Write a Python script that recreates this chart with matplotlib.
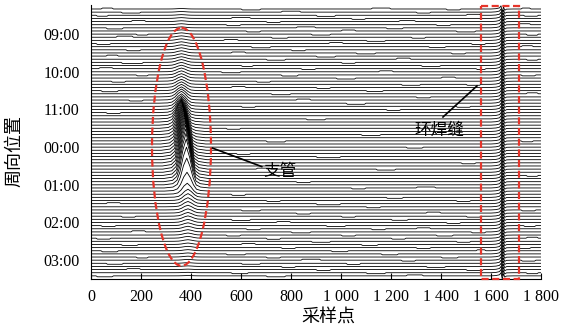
import numpy as np
import matplotlib.pyplot as plt
from matplotlib.patches import Ellipse, Rectangle

plt.rcParams['font.family'] = ['Liberation Serif', 'Noto Sans CJK SC']
cjk = ['Noto Sans CJK SC', 'DejaVu Sans']

# ---- data ----
n_traces = 86
hour_rows = [8, 20, 32, 44, 56, 68, 80]
hour_labels = ["09:00", "10:00", "11:00", "00:00", "01:00", "02:00", "03:00"]
x_ticks = [0, 200, 400, 600, 800, 1000, 1200, 1400, 1600, 1800]
x_tick_labels = ["0", "200", "400", "600", "800", "1 000", "1 200", "1 400", "1 600", "1 800"]

# branch (支管) hump: shape around its centre, in trace spacings
branch_offsets = [-90, -55, -38, -26, -13, 0, 13, 26, 38, 55, 90]
branch_shape = [0, 0.03, 0.12, 0.35, 0.75, 1.0, 0.72, 0.33, 0.1, 0.03, 0]
branch_center = ([362] * 36
                 + [362, 363, 364, 365, 366, 367, 368, 369, 370, 371]
                 + [372, 373, 374, 375, 376, 377, 378, 379, 380, 381]
                 + [382, 383, 384, 385]
                 + [388] * 26)
branch_amp = [0.15, 0.2, 0.2, 0.25, 0.25, 0.3, 0.3, 0.35, 0.4, 0.45,
              0.5, 0.55, 0.6, 0.65, 0.7, 0.75, 0.8, 0.9, 1.0, 1.1,
              1.2, 1.3, 1.4, 1.5, 1.6, 1.8, 2.0, 2.2, 2.5, 2.8,
              3.0, 3.4, 3.9, 4.5, 5.2, 6.0, 6.8, 7.5, 8.2, 8.9,
              9.6, 10.3, 11.0, 11.6, 12.2, 12.8, 13.3, 13.8, 14.2, 14.5,
              14.8, 15.0, 15.0, 14.8, 14.4, 13.6, 12.0, 9.5, 6.0, 3.5,
              2.6, 2.2, 1.9, 1.7, 1.5, 1.35, 1.2, 1.1, 1.0, 0.9,
              0.8, 0.72, 0.65, 0.58, 0.52, 0.46, 0.4, 0.35, 0.3, 0.27,
              0.24, 0.2, 0.18, 0.15, 0.12, 0.1]

# girth weld (环焊缝) spike, same on every trace
weld_x = [1600, 1620, 1634, 1640, 1645, 1650, 1655, 1662, 1690]
weld_dy = [0, -0.1, -0.35, -1.0, 1.0, -0.7, 0.4, 0.05, 0]

# small steps in the traces: (trace, x start, x end, offset)
wiggles = [
    (0, 40, 90, -0.3), (0, 600, 680, 0.3), (0, 1120, 1200, -0.3), (0, 1420, 1480, 0.3), (0, 1720, 1760, -0.3),
    (1, 120, 200, 0.3), (1, 760, 840, -0.3), (1, 1300, 1360, 0.3),
    (2, 20, 70, 0.3), (2, 900, 980, 0.35), (2, 1500, 1560, -0.3), (2, 1730, 1790, 0.3),
    (3, 560, 640, -0.3), (3, 1040, 1100, 0.3),
    (4, 160, 220, -0.35), (4, 700, 760, 0.3), (4, 1230, 1300, -0.3),
    (5, 540, 600, 0.3), (5, 1380, 1440, 0.3), (5, 1710, 1760, -0.3),
    (6, 60, 130, 0.35), (6, 820, 900, -0.3), (6, 1180, 1250, 0.3),
    (7, 620, 680, 0.3), (7, 1000, 1060, -0.3), (7, 1460, 1540, 0.3),
    (8, 180, 230, 0.3), (8, 880, 960, 0.3), (8, 1740, 1790, 0.35),
    (9, 100, 170, -0.35), (9, 720, 790, 0.3), (9, 1280, 1340, 0.3),
    (10, 530, 590, -0.3), (10, 1100, 1180, 0.3),
    (11, 20, 80, 0.3), (11, 950, 1010, -0.3), (11, 1520, 1580, 0.3),
    (12, 640, 720, 0.35), (12, 1350, 1420, 0.3), (12, 1720, 1770, -0.3),
    (13, 140, 200, 0.3), (13, 800, 860, 0.3),
    (14, 560, 620, -0.3), (14, 1060, 1140, 0.3), (14, 1440, 1500, 0.3),
    (15, 60, 110, -0.3), (15, 900, 980, 0.3),
    (16, 700, 780, 0.3), (16, 1220, 1280, -0.35), (16, 1740, 1790, 0.3),
    (17, 120, 210, 0.35), (17, 1000, 1060, 0.3),
    (18, 600, 650, 0.3), (18, 1320, 1400, 0.3),
    (19, 30, 90, -0.3), (19, 840, 900, 0.3), (19, 1540, 1580, 0.3),
    (20, 520, 600, 0.3), (20, 1150, 1210, -0.3),
    (21, 180, 230, 0.3), (21, 760, 830, 0.35), (21, 1720, 1780, 0.3),
    (22, 980, 1060, 0.3), (22, 1400, 1460, -0.3),
    (23, 80, 140, 0.3), (23, 660, 720, 0.3),
    (24, 1240, 1320, 0.3), (24, 1500, 1560, 0.3),
    (25, 560, 620, -0.3), (25, 900, 960, 0.3),
    (26, 40, 110, 0.35), (26, 1100, 1170, 0.3),
    (27, 720, 800, 0.3), (27, 1740, 1790, -0.3),
    (28, 1300, 1360, 0.3),
    (29, 150, 210, 0.3), (29, 820, 880, -0.3),
    (30, 1020, 1100, 0.35),
    (31, 600, 660, 0.3), (31, 1460, 1520, 0.3),
    (32, 1180, 1240, 0.3), (33, 60, 120, 0.3), (35, 860, 940, 0.3),
    (37, 1380, 1440, -0.3), (38, 540, 600, 0.3), (40, 1080, 1160, 0.3),
    (42, 700, 780, 0.35), (42, 1720, 1770, 0.3), (44, 1260, 1330, 0.3),
    (46, 580, 640, 0.3), (47, 900, 1000, 0.35), (49, 1480, 1540, 0.3),
    (51, 660, 720, -0.3), (51, 1140, 1220, 0.3), (53, 1740, 1790, 0.3),
    (55, 820, 880, 0.3), (57, 1040, 1100, 0.3), (57, 1300, 1380, -0.3),
    (59, 560, 620, 0.35), (60, 1180, 1250, 0.3),
    (61, 700, 760, 0.3), (61, 1460, 1520, 0.3),
    (62, 60, 120, -0.3), (62, 900, 1000, 0.35),
    (63, 1100, 1160, 0.3),
    (64, 600, 680, 0.3), (64, 1720, 1780, 0.3),
    (65, 820, 880, 0.3), (65, 1340, 1400, -0.3),
    (66, 120, 180, 0.3), (66, 1000, 1060, 0.3), (66, 1500, 1560, 0.3),
    (67, 560, 640, 0.35), (67, 1200, 1270, 0.3),
    (68, 740, 800, -0.3), (68, 1420, 1480, 0.3),
    (69, 40, 100, 0.3), (69, 940, 1020, 0.3), (69, 1730, 1780, 0.3),
    (70, 620, 680, 0.3), (70, 1120, 1180, 0.3), (70, 1300, 1360, -0.3),
    (71, 160, 220, -0.35), (71, 800, 880, 0.3), (71, 1520, 1580, 0.3),
    (72, 540, 600, 0.3), (72, 1000, 1060, 0.3), (72, 1380, 1450, 0.3),
    (73, 20, 80, 0.3), (73, 700, 760, 0.35), (73, 1200, 1260, 0.3), (73, 1740, 1790, -0.3),
    (74, 880, 960, 0.3), (74, 1460, 1520, 0.3),
    (75, 120, 190, 0.3), (75, 600, 660, -0.3), (75, 1080, 1150, 0.3),
    (76, 760, 820, 0.3), (76, 1300, 1360, 0.3), (76, 1710, 1760, 0.3),
    (77, 40, 110, 0.35), (77, 960, 1030, 0.3), (77, 1540, 1580, -0.3),
    (78, 540, 620, 0.3), (78, 1160, 1230, 0.3),
    (79, 180, 230, 0.3), (79, 700, 760, 0.3), (79, 1400, 1470, 0.3),
    (80, 840, 920, -0.3), (80, 1240, 1300, 0.3), (80, 1720, 1780, 0.3),
    (81, 60, 130, 0.3), (81, 600, 680, 0.3), (81, 1020, 1080, 0.35),
    (82, 760, 820, 0.3), (82, 1340, 1420, 0.3),
    (83, 140, 200, -0.3), (83, 900, 960, 0.3), (83, 1500, 1570, 0.3),
    (84, 560, 630, 0.3), (84, 1100, 1180, 0.3), (84, 1740, 1790, 0.3),
    (85, 20, 90, 0.3), (85, 700, 780, 0.3), (85, 1260, 1330, -0.3),
]

red = '#e5352b'

fig = plt.figure(figsize=(5.76, 3.32), dpi=100)
ax = fig.add_axes([91 / 576, 1 - 279 / 332, 450 / 576, 274 / 332])

for i in range(n_traces):
    xs = [0, 1800]
    ys = [0, 0]
    for (t, x0, x1, dy) in wiggles:
        if t == i:
            xs += [x0, x0 + 6, x1 - 6, x1]
            ys += [0, dy, dy, 0]
    xs += [branch_center[i] + o for o in branch_offsets]
    ys += [-branch_amp[i] * s for s in branch_shape]
    xs += weld_x
    ys += weld_dy
    order = np.argsort(xs, kind='stable')
    ax.plot(np.array(xs)[order], i + np.array(ys)[order], color='black', lw=0.6)

# red dashed marks
ax.add_patch(Ellipse((362, 43.9), width=236, height=75.8, fill=False,
                     edgecolor=red, lw=1.6, ls=(0, (3.2, 1.6)), zorder=5))
ax.add_patch(Rectangle((1560, -0.95), 152, 86.95, fill=False, edgecolor=red,
                       lw=1.6, ls=(0, (3.2, 1.6)), zorder=5, clip_on=False))

# annotations
ax.plot([486, 683], [44.3, 50.2], color='black', lw=1.2, zorder=6)
ax.text(756, 51.9, "支管", family=cjk, fontsize=12, ha='center', va='center', zorder=6)
ax.plot([1408, 1544], [34.4, 24.5], color='black', lw=1.2, zorder=6)
ax.text(1392, 38.5, "环焊缝", family=cjk, fontsize=12, ha='center', va='center', zorder=6)

ax.set_xlim(0, 1800)
ax.set_ylim(86.0, -1.27)
ax.set_xticks(x_ticks)
ax.set_xticklabels(x_tick_labels)
ax.set_yticks(hour_rows)
ax.set_yticklabels(hour_labels)
ax.tick_params(axis='x', direction='in', length=4, width=0.8, pad=7, labelsize=11.5)
ax.tick_params(axis='y', direction='in', length=0, pad=8, labelsize=11.5)
ax.spines['top'].set_visible(False)
ax.spines['right'].set_visible(False)
ax.spines['left'].set_linewidth(0.8)
ax.spines['bottom'].set_linewidth(0.8)

fig.text(328 / 576, 1 - 318 / 332, "采样点", family=cjk, fontsize=13, ha='center', va='center')
fig.text(14 / 576, 1 - 151 / 332, "周向位置", family=cjk, fontsize=13, ha='center', va='center',
         rotation=90)

fig.savefig('out.png', dpi=100)
